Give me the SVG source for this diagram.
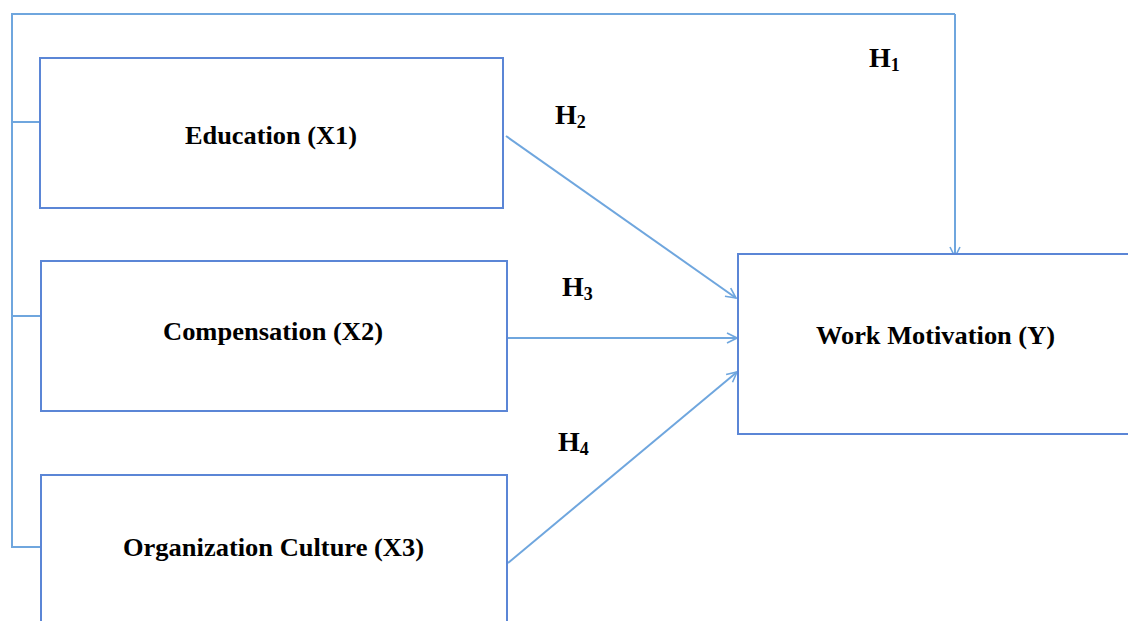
<svg xmlns="http://www.w3.org/2000/svg" width="1128" height="621" viewBox="0 0 1128 621">
<defs>
<style>
.box{fill:#fff;stroke:#5b86d6;stroke-width:2}
.con{fill:none;stroke:#6fa6de;stroke-width:2}
.lbl{font-family:"Liberation Serif",serif;font-weight:bold;font-size:26px;fill:#000}
.h{font-family:"Liberation Serif",serif;font-weight:bold;font-size:28px;fill:#000}
.sub{font-size:18px}
</style>
<marker id="arr" viewBox="0 0 12 12" refX="11" refY="6" markerWidth="12" markerHeight="12" markerUnits="userSpaceOnUse" orient="auto">
<path d="M1,1 L11,6 L1,11" fill="none" stroke="#6fa6de" stroke-width="1.6"/>
</marker>
</defs>
<rect width="1128" height="621" fill="#fff"/>
<g id="connectors">
<path class="con" d="M955,14 L12,14 L12,547 L41,547"/>
<path class="con" d="M12,122 L40,122"/>
<path class="con" d="M12,316 L41,316"/>
<path class="con" d="M955,14 L955,257" marker-end="url(#arr)"/>
<path class="con" d="M506,136 L736,298" marker-end="url(#arr)"/>
<path class="con" d="M508,338 L737,338" marker-end="url(#arr)"/>
<path class="con" d="M508,563 L737,372" marker-end="url(#arr)"/>
</g>
<g id="education">
<rect class="box" x="40" y="58" width="463" height="150"/>
<text class="lbl" x="185" y="144" textLength="172" lengthAdjust="spacingAndGlyphs">Education (X1)</text>
</g>
<g id="compensation">
<rect class="box" x="41" y="261" width="466" height="150"/>
<text class="lbl" x="163" y="340" textLength="220" lengthAdjust="spacingAndGlyphs">Compensation (X2)</text>
</g>
<g id="culture">
<rect class="box" x="41" y="475" width="466" height="160"/>
<text class="lbl" x="123" y="556" textLength="301" lengthAdjust="spacingAndGlyphs">Organization Culture (X3)</text>
</g>
<g id="motivation">
<rect class="box" x="738" y="254" width="400" height="180"/>
<text class="lbl" x="816" y="344" textLength="239" lengthAdjust="spacingAndGlyphs">Work Motivation (Y)</text>
</g>
<g id="labels">
<text class="h" x="869" y="67">H<tspan class="sub" dy="4">1</tspan></text>
<text class="h" x="555" y="124">H<tspan class="sub" dy="4">2</tspan></text>
<text class="h" x="562" y="296">H<tspan class="sub" dy="4">3</tspan></text>
<text class="h" x="558" y="451">H<tspan class="sub" dy="4">4</tspan></text>
</g>
</svg>
